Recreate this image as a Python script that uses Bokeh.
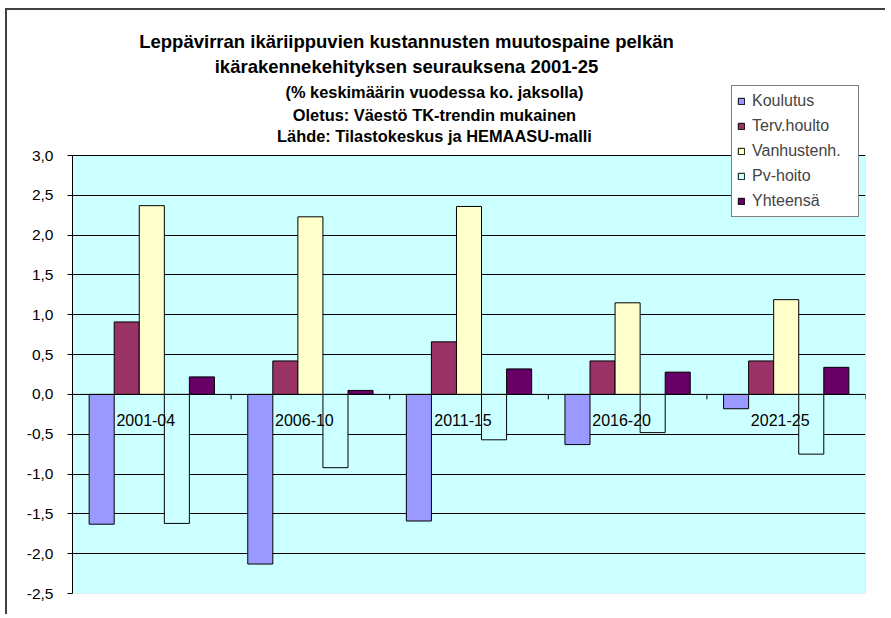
from bokeh.plotting import figure
from bokeh.models import (ColumnDataSource, Range1d, FactorRange, FixedTicker,
                          CustomJSTickFormatter, Span, Label, BoxAnnotation)
from bokeh.transform import dodge
from bokeh.embed import file_html
from bokeh.resources import INLINE
from bokeh.core.properties import value

# ---- data ----
categories = ["2001-04", "2006-10", "2011-15", "2016-20", "2021-25"]
koulutus    = [-1.63, -2.13, -1.59, -0.63, -0.18]
terv_houlto = [0.91, 0.42, 0.66, 0.42, 0.42]
vanhustenh  = [2.37, 2.23, 2.36, 1.15, 1.19]
pv_hoito    = [-1.62, -0.92, -0.57, -0.48, -0.75]
yhteensa    = [0.22, 0.05, 0.32, 0.28, 0.34]

series_names = ["Koulutus", "Terv.houlto", "Vanhustenh.", "Pv-hoito", "Yhteensä"]
series_keys = ["koulutus", "terv", "vanh", "pv", "yht"]
series_colors = ["#9999FF", "#993366", "#FFFFCC", "#CCFFFF", "#660066"]

y_min, y_max = -2.5, 3.0
y_ticks = [-2.5, -2.0, -1.5, -1.0, -0.5, 0.0, 0.5, 1.0, 1.5, 2.0, 2.5, 3.0]
y_tick_labels = ["-2,5", "-2,0", "-1,5", "-1,0", "-0,5", "0,0",
                 "0,5", "1,0", "1,5", "2,0", "2,5", "3,0"]

title_lines = ["Leppävirran ikäriippuvien kustannusten muutospaine pelkän",
               "ikärakennekehityksen seurauksena 2001-25"]
subtitle_lines = ["(% keskimäärin vuodessa ko. jaksolla)",
                  "Oletus: Väestö TK-trendin mukainen",
                  "Lähde: Tilastokeskus ja HEMAASU-malli"]

FONT = "Liberation Sans"

# ---- layout (pixels) ----
W, H = 880, 606
B_LEFT, B_RIGHT, B_TOP, B_BOTTOM = 65, 22, 0, 23
AREA_TOP_PX = 145            # distance from canvas top to the 3,0 line
frame_h = H - B_TOP - B_BOTTOM
area_h = frame_h - (AREA_TOP_PX - B_TOP)
px_per_unit = area_h / (y_max - y_min)
y_top = y_max + (AREA_TOP_PX - B_TOP) / px_per_unit

def y_at(px_from_top):
    """data y for a pixel row measured from canvas top"""
    return y_top - (px_from_top - B_TOP) / px_per_unit

source = ColumnDataSource(dict(cat=categories, koulutus=koulutus, terv=terv_houlto,
                               vanh=vanhustenh, pv=pv_hoito, yht=yhteensa))

p = figure(width=W, height=H, output_backend="svg", toolbar_location=None, title=None,
           x_range=FactorRange(*categories), y_range=Range1d(y_min, y_top),
           x_axis_location=None, min_border_left=B_LEFT, min_border_right=B_RIGHT,
           min_border_top=B_TOP, min_border_bottom=B_BOTTOM)
p.styles = {"margin-top": "8px", "margin-left": "5px",
            "border-top": "2px solid #404040", "border-left": "2px solid #404040"}

p.background_fill_color = "white"
p.border_fill_color = "white"
p.outline_line_color = None

# plot area background
p.add_layout(BoxAnnotation(bottom=y_min, top=y_max, fill_color="#CCFFFF", fill_alpha=1,
                           line_color="#808080", line_width=1, level="image"))

p.xgrid.grid_line_color = None
p.ygrid.ticker = FixedTicker(ticks=y_ticks[1:])
p.ygrid.grid_line_color = "black"
p.ygrid.grid_line_width = 1

ax = p.yaxis[0]
ax.bounds = (y_min, y_max)
ax.ticker = FixedTicker(ticks=y_ticks)
ax.formatter = CustomJSTickFormatter(args=dict(tvals=y_ticks, tlabels=y_tick_labels), code="""
    for (let i = 0; i < tvals.length; i++) {
        if (Math.abs(tvals[i] - tick) < 1e-9) return tlabels[i];
    }
    return '';
""")
ax.axis_line_color = "black"
ax.major_tick_line_color = "black"
ax.major_tick_out = 5
ax.major_tick_in = 0
ax.minor_tick_line_color = None
ax.major_label_text_font = FONT
ax.major_label_text_font_size = "15.5px"
ax.major_label_text_color = "black"
ax.major_label_standoff = 14

# zero (category) axis line
p.add_layout(Span(location=0, dimension="width", line_color="black", line_width=1))

n = len(categories)
bw = 0.158
for i, (key, name, col) in enumerate(zip(series_keys, series_names, series_colors)):
    p.vbar(x=dodge("cat", (i - 2) * bw, range=p.x_range), top=key, bottom=0, width=bw,
           source=source, fill_color=col, line_color="black", line_width=1,
           legend_label=name)

# category tick marks at boundaries
bounds = [i + 1 for i in range(n)]
p.segment(x0=bounds, y0=[0] * n, x1=bounds, y1=[-5 / px_per_unit] * n,
          line_color="black", line_width=1)

# category labels just below the zero line
p.text(x="cat", y=0, text="cat", source=source, x_offset=-6, y_offset=26,
       text_align="center", text_baseline="middle", text_font=value(FONT),
       text_font_size="16px", text_color="black")

# titles (canvas rows measured from the canvas top)
title_rows = [31, 56]
for t, r in zip(title_lines, title_rows):
    p.add_layout(Label(x=2.106, y=y_at(r), text=t, text_font=FONT, text_font_size="18.5px",
                       text_font_style="bold", text_align="center", text_baseline="middle",
                       text_color="black"))
sub_rows = [81, 104, 125]
for t, r in zip(subtitle_lines, sub_rows):
    p.add_layout(Label(x=2.282, y=y_at(r), text=t, text_font=FONT, text_font_size="16.4px",
                       text_font_style="bold", text_align="center", text_baseline="middle",
                       text_color="black"))

lg = p.legend[0]
lg.location = (659, int(round(frame_h - (217 - 10))))
lg.border_line_color = "black"
lg.border_line_width = 1
lg.background_fill_color = "white"
lg.background_fill_alpha = 1
lg.label_text_font = FONT
lg.label_text_font_size = "16px"
lg.glyph_width = 8
lg.glyph_height = 8
lg.label_height = 20
lg.label_width = 101
lg.spacing = 5
lg.padding = 5
lg.margin = 0
lg.label_standoff = 7

open("out.html", "w").write(file_html(p, INLINE))
